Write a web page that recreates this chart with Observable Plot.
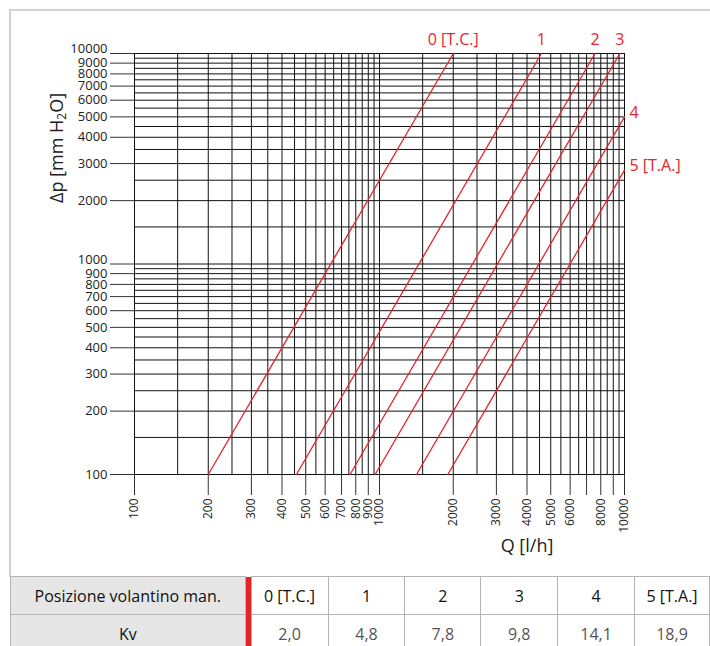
<!DOCTYPE html>
<html>
<head>
<meta charset="utf-8">
<script src="https://cdn.jsdelivr.net/npm/d3@7"></script>
<script src="https://cdn.jsdelivr.net/npm/@observablehq/plot@0.6"></script>
<style>
  body { margin: 0; background: #fff; font-family: "Open Sans", sans-serif; }
  #wrap { position: relative; width: 710px; height: 646px; overflow: hidden; }
  #box { position: absolute; left: 9px; top: 9px; width: 710px; height: 568px; box-sizing: border-box;
         border-top: 2px solid #d2d2d2; border-left: 2px solid #d2d2d2; }
  #chart { position: absolute; left: 0; top: 0; }
  .ylab { position: absolute; left: 57px; top: 148px; transform: translate(-50%, -50%) rotate(-90deg);
          font-size: 18px; white-space: nowrap; color: #222; }
  .ylab sub { font-size: 12px; vertical-align: -3px; }
  .xlab { position: absolute; left: 527px; top: 545px; transform: translate(-50%, -50%);
          font-size: 18px; white-space: nowrap; color: #222; }
  table { position: absolute; left: 10px; top: 576px; border-collapse: collapse; table-layout: fixed; }
  td { border: 1px solid #b4b4b4; text-align: center; font-size: 16px; padding: 0; height: 37px; color: #111; }
  td.head { background: #e6e6e6; }
  td.bar { background: #e5232d; border: none; }
  tr.kv td.val { color: #555; }
</style>
</head>
<body>
<div id="wrap">
  <div id="box"></div>
  <div id="chart"></div>
  <div class="ylab">Δp [mm H<sub>2</sub>O]</div>
  <div class="xlab">Q [l/h]</div>
  <table id="tbl"></table>
</div>
<script>
// Handwheel positions and Kv values (table)
const positions = ["0 [T.C.]", "1", "2", "3", "4", "5 [T.A.]"];
const kvValues = ["2,0", "4,8", "7,8", "9,8", "14,1", "18,9"];

// Curve endpoints: start at Δp = 100 mm H2O
const qStart = [200, 458, 758, 960, 1416, 1900];
const dpStart = [100, 100, 100, 100, 100, 100];
const qEnd = [2000, 4580, 7580, 9570, 10000, 10000];
const dpEnd = [10000, 10000, 10000, 10000, 5000, 2790];

// Grid lines (same for both axes)
const xGrid = [100,150,200,250,300,350,400,450,500,550,600,650,700,750,800,850,900,950,
               1000,1500,2000,2500,3000,3500,4000,4500,5000,5500,6000,6500,7000,7500,8000,8500,9000,9500,10000];
const yGrid = xGrid;

// Ticks and labels
const xTicks = [100,200,300,400,500,600,700,800,900,1000,2000,3000,4000,5000,6000,7000,8000,9000,10000];
const xTickLabels = [100,200,300,400,500,600,700,800,900,1000,2000,3000,4000,5000,6000,8000,10000];
const yTicks = [100,200,300,400,500,600,700,800,900,1000,2000,3000,4000,5000,6000,7000,8000,9000,10000];
const yRaised = [1000, 10000];

const red = "#e5232d";

const curves = positions.flatMap((p, i) => [
  {pos: p, q: qStart[i], dp: dpStart[i]},
  {pos: p, q: qEnd[i], dp: dpEnd[i]}
]);
const ends = positions.map((p, i) => ({pos: p, q: qEnd[i], dp: dpEnd[i]}));
const topEnds = ends.filter(d => d.dp === 10000);
const sideEnds = ends.filter(d => d.dp !== 10000);

const fmt = d => String(d);

const chart = Plot.plot({
  width: 710,
  height: 576,
  marginLeft: 134,
  marginRight: 86,
  marginTop: 53,
  marginBottom: 102,
  x: {type: "log", domain: [100, 10000]},
  y: {type: "log", domain: [100, 10000]},
  style: {fontFamily: "'Open Sans', sans-serif", color: "#222", background: "transparent", overflow: "visible"},
  marks: [
    Plot.ruleX(xGrid, {stroke: "#111", strokeWidth: 1}),
    Plot.ruleY(yGrid, {stroke: "#111", strokeWidth: 1}),
    Plot.axisY({ticks: yTicks, tickSize: 24, fill: "none", stroke: "#333", label: null}),
    Plot.axisX({ticks: xTicks, tickSize: 21, fill: "none", stroke: "#333", label: null}),
    Plot.text(yTicks.filter(v => !yRaised.includes(v)), {y: d => d, text: fmt, frameAnchor: "left",
              dx: -27, textAnchor: "end", fontSize: 13, fill: "#222"}),
    Plot.text(yRaised, {y: d => d, text: fmt, frameAnchor: "left",
              dx: -27, dy: -4.5, textAnchor: "end", fontSize: 13, fill: "#222"}),
    Plot.text(xTickLabels, {x: d => d, text: fmt, frameAnchor: "bottom", dy: 24, rotate: -90,
              textAnchor: "end", lineAnchor: "middle", fontSize: 12, fill: "#222"}),
    Plot.line(curves, {x: "q", y: "dp", z: "pos", stroke: red, strokeWidth: 1.3}),
    Plot.text(topEnds, {x: "q", y: "dp", text: "pos", dy: -14, fill: red, fontSize: 16}),
    Plot.text(sideEnds, {x: "q", y: "dp", text: "pos", dx: 5, dy: -4, textAnchor: "start", fill: red, fontSize: 16})
  ]
});
document.getElementById("chart").appendChild(chart);

// Table
const colWidths = [235, 6, 77, 77, 76, 77, 77, 75];
const tbl = document.getElementById("tbl");
const cg = document.createElement("colgroup");
colWidths.forEach(w => { const c = document.createElement("col"); c.style.width = w + "px"; cg.appendChild(c); });
tbl.appendChild(cg);
function row(label, values, cls) {
  const tr = document.createElement("tr");
  if (cls) tr.className = cls;
  const th = document.createElement("td"); th.className = "head"; th.textContent = label; tr.appendChild(th);
  const bar = document.createElement("td"); bar.className = "bar"; tr.appendChild(bar);
  values.forEach(v => { const td = document.createElement("td"); td.className = "val"; td.textContent = v; tr.appendChild(td); });
  tbl.appendChild(tr);
}
row("Posizione volantino man.", positions, "pos");
row("Kv", kvValues, "kv");
</script>
</body>
</html>
